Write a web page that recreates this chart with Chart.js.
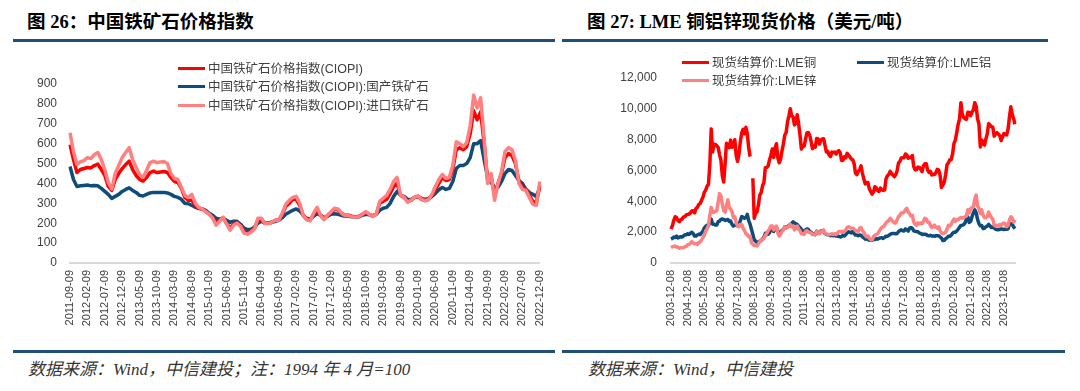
<!DOCTYPE html>
<html><head><meta charset="utf-8">
<script src="https://cdn.jsdelivr.net/npm/chart.js@4.4.1/dist/chart.umd.min.js"></script>
<style>
html,body{margin:0;padding:0;background:#fff;width:1080px;height:391px;overflow:hidden;position:relative}
.t{position:absolute;font-family:"Liberation Serif","Noto Sans CJK SC",serif;font-weight:bold;font-size:18.5px;color:#000;white-space:nowrap;line-height:18px}
.rule{position:absolute;background:#1F4E79}
.src{position:absolute;font-family:"Liberation Serif","Noto Sans CJK SC",serif;font-style:italic;font-size:17px;color:#333;white-space:nowrap;line-height:17px}
.lg{position:absolute;font-family:"Liberation Sans","Noto Sans CJK SC",sans-serif;font-size:12.5px;color:#404040;white-space:nowrap;line-height:14px;height:14px}
.lg .sw{display:inline-block;width:27px;height:3px;vertical-align:middle;margin-right:3px;position:relative;top:-1px}
canvas{position:absolute}
</style></head>
<body>
<div class="t" style="left:27px;top:13px">图 26：中国铁矿石价格指数</div>
<div class="t" style="left:587px;top:13px">图 27: LME 铜铝锌现货价格（美元/吨）</div>
<div class="rule" style="left:13px;top:39px;width:542px;height:3px"></div>
<div class="rule" style="left:562px;top:39px;width:486px;height:3px"></div>
<div class="rule" style="left:13px;top:350px;width:542px;height:3px"></div>
<div class="rule" style="left:562px;top:350px;width:503px;height:3px"></div>
<div class="src" style="left:28px;top:361px">数据来源：Wind，中信建投；注：1994 年 4 月=100</div>
<div class="src" style="left:588px;top:361px">数据来源：Wind，中信建投</div>

<canvas id="c1" width="560" height="300" style="left:0;top:45px"></canvas>
<canvas id="c2" width="520" height="300" style="left:560px;top:45px"></canvas>

<div class="lg" style="left:178px;top:62px"><span class="sw" style="background:#FF0000"></span>中国铁矿石价格指数(CIOPI)</div>
<div class="lg" style="left:178px;top:80px"><span class="sw" style="background:#0E4C7C"></span>中国铁矿石价格指数(CIOPI):国产铁矿石</div>
<div class="lg" style="left:178px;top:99px"><span class="sw" style="background:#FF8080"></span>中国铁矿石价格指数(CIOPI):进口铁矿石</div>

<div class="lg" style="left:682px;top:56px"><span class="sw" style="background:#FF0000"></span>现货结算价:LME铜</div>
<div class="lg" style="left:682px;top:74px"><span class="sw" style="background:#FF8080"></span>现货结算价:LME锌</div>
<div class="lg" style="left:857px;top:56px"><span class="sw" style="background:#0E4C7C"></span>现货结算价:LME铝</div>

<script>
// ---------- Chart 26: CIOPI monthly, 2011-09 .. 2022-12 ----------
const ironStart = [2011, 9];
const ironComposite = [
 595,520,455,470,
 475,480,478,490,497,470,440,385,365,420,450,475,
 495,512,470,440,420,412,430,455,462,455,458,460,
 455,430,410,405,375,330,315,315,290,275,270,260,
 245,230,205,215,228,200,175,195,205,190,160,150,
 160,175,215,220,200,200,205,215,215,245,285,300,
 320,320,290,240,220,215,245,270,240,220,240,255,
 270,268,250,240,240,235,232,235,245,255,245,235,
 245,300,310,320,350,385,400,340,330,310,315,330,
 335,320,315,320,340,370,400,430,415,420,470,570,
 580,570,585,650,765,720,760,600,420,440,340,400,
 450,530,550,540,500,410,380,370,340,310,300,390
];
const ironDomestic = [
 485,420,385,388,
 390,392,388,390,388,375,360,345,325,335,345,360,
 370,378,365,355,340,337,345,352,355,355,355,355,
 352,345,335,330,320,300,298,290,280,275,272,265,
 250,240,225,220,225,215,205,210,210,195,175,168,
 170,180,200,210,200,200,205,210,215,228,245,255,
 265,272,262,240,225,220,235,248,240,228,235,245,
 248,245,240,235,235,232,230,232,240,245,242,238,
 245,265,275,280,300,335,360,340,335,320,318,330,
 335,325,320,325,335,350,368,380,370,375,410,475,
 490,490,500,530,600,600,615,520,430,405,380,380,
 410,450,470,465,440,415,400,370,355,345,335,378
];
const ironImported = [
 655,560,495,510,
 515,530,525,545,555,520,470,405,372,450,490,530,
 555,580,520,480,445,430,465,505,512,505,508,510,
 500,450,425,420,380,340,330,345,300,280,270,258,
 245,225,190,210,230,195,165,190,200,185,150,145,
 155,170,225,225,198,197,205,215,215,250,295,315,
 330,335,300,240,218,212,250,280,240,218,240,258,
 275,272,250,238,238,233,230,233,245,258,245,233,
 245,310,325,340,370,410,430,340,330,305,315,330,
 337,320,312,318,345,385,420,445,425,430,490,610,
 600,585,605,690,845,780,830,630,400,450,315,400,
 460,560,580,570,515,400,370,365,330,295,290,410
];
const ironTickEvery = 5;
const ironYMax = 900, ironYStep = 100;

// ---------- Chart 27: LME spot, monthly, 2003-12 .. 2024-08 ----------
const metalStart = [2003, 12];
const lmeCopper = [
 2200,
 2420,2760,3000,2950,2750,2680,2810,2850,2990,3000,3120,3150,
 3170,3250,3380,3390,3250,3530,3610,3800,3860,4060,4270,4580,
 4730,4980,5100,6400,8700,7200,7710,7690,7600,7500,7030,6680,
 5670,5250,6450,7770,7650,7480,7970,7510,7650,8000,6960,6590,
 7060,7890,8440,8680,8380,8800,8400,7500,6900,null,5500,2900,
 3220,3310,3750,4410,4570,5010,5220,6180,6200,6290,6680,6980,
 7390,6850,7460,7740,6840,6500,6740,7280,7710,8290,8470,9150,
 9550,10000,9530,9480,8960,9060,9620,9040,8300,7390,7580,7570,
 8040,8440,8470,8290,7900,7420,7580,7510,8070,8060,7710,7960,
 8050,8060,7650,7200,7250,7000,6910,7190,7160,7200,7070,7210,
 7290,7150,6650,6670,6890,6820,7110,7000,6870,6740,6710,6450,
 5830,5730,5940,6040,6300,5830,5460,5130,5220,5220,4800,4640,
 4470,4600,4950,4870,4690,4640,4860,4750,4720,4730,5450,5660,
 5740,5940,5820,5700,5600,5720,5980,6490,6580,6810,6820,6830,
 7070,7000,6800,6840,6830,6970,6250,6050,6050,6220,6200,6080,
 5930,6300,6440,6440,6030,5870,5940,5710,5760,5740,5860,6080,
 6030,5690,4900,5060,5240,5740,6370,6500,6700,6700,7070,7760,
 7970,8460,8990,9340,10400,9630,9440,9360,9320,9780,9770,9550,
 9780,9940,10400,10180,9360,9030,7530,7980,7750,7650,8050,8370,
 9040,8950,8840,8810,8230,8390,8460,8350,8270,7940,8170,8390,
 8340,8310,8680,9470,10130,9640,9360,9000
];
const lmeAluminium = [
 1550,
 1600,1680,1650,1750,1630,1680,1700,1690,1750,1830,1830,1900,
 1850,1930,1990,1900,1750,1750,1820,1870,1850,1950,2050,2270,
 2380,2450,2430,2620,2850,2520,2520,2460,2460,2680,2720,2830,
 2850,2830,2760,2800,2820,2700,2720,2500,2400,2440,2480,2400,
 2450,2750,3010,2960,2900,2950,3150,2750,2520,2190,1860,1500,
 1420,1340,1360,1420,1460,1570,1670,1930,1840,1860,1960,2180,
 2230,2040,2210,2320,2040,1930,2000,2120,2160,2350,2330,2350,
 2440,2510,2560,2670,2600,2550,2500,2380,2290,2180,2080,2020,
 2150,2210,2180,2050,2000,1890,1880,1840,2060,1970,1950,2080,
 2040,2050,1910,1860,1830,1840,1770,1820,1760,1820,1750,1740,
 1730,1690,1710,1810,1750,1840,1950,2030,1990,1950,2050,1910,
 1810,1820,1770,1820,1800,1690,1640,1550,1590,1520,1470,1480,
 1480,1530,1530,1570,1550,1600,1630,1640,1590,1660,1740,1730,
 1790,1860,1900,1920,1920,1890,1910,2030,2100,2150,2090,2080,
 2210,2160,2070,2260,2300,2240,2090,2060,2040,2030,1940,1920,
 1850,1870,1870,1850,1780,1760,1800,1750,1760,1730,1770,1770,
 1770,1690,1610,1460,1470,1580,1640,1730,1740,1800,1930,1990,
 2000,2080,2190,2320,2440,2450,2490,2600,2840,2980,2630,2700,
 3000,3250,3450,3260,2830,2560,2410,2430,2230,2260,2350,2390,
 2500,2400,2300,2340,2270,2190,2160,2150,2190,2200,2200,2170,
 2200,2190,2220,2520,2560,2520,2340,2230
];
const lmeZinc = [
 1000,
 1050,1080,1100,1030,1040,960,1000,980,1000,1060,1080,1190,
 1210,1280,1380,1300,1240,1270,1200,1330,1360,1500,1650,1800,
 2080,2220,2440,3100,3600,3300,3300,3350,3400,3950,4500,4350,
 3800,3400,3300,3700,4100,3600,3500,3300,2950,3000,2600,2400,
 2350,2500,2500,2250,2100,1900,1850,1700,1750,1300,1220,1130,
 1170,1110,1240,1400,1500,1550,1580,1800,1900,2100,2200,2400,
 2400,2150,2300,2400,1950,1750,1850,2050,2150,2350,2250,2300,
 2400,2500,2350,2400,2150,2250,2400,2200,2100,1900,1900,1850,
 2050,2100,2000,2000,1950,1850,1850,1850,2050,1900,1900,2050,
 2050,2150,1950,1900,1850,1850,1850,1900,1850,1900,1850,1950,
 2050,2050,2000,2050,2050,2150,2300,2350,2300,2250,2250,2200,
 2100,2100,2050,2250,2300,2100,2000,1800,1700,1750,1600,1500,
 1500,1700,1800,1850,1900,2050,2200,2300,2350,2450,2600,2700,
 2750,2900,2800,2700,2600,2600,2800,3000,3100,3250,3250,3300,
 3450,3550,3300,3200,3050,3100,2650,2500,2450,2600,2550,2600,
 2550,2700,2900,2850,2650,2650,2450,2300,2350,2450,2300,2250,
 2350,2100,1950,1900,1950,2000,2200,2450,2400,2500,2700,2850,
 2700,2800,2800,2900,2950,2900,2950,3000,3050,3450,3250,3500,
 3600,3650,4150,4400,3700,3550,3200,3450,3100,2950,2950,3000,
 3300,3100,2950,2850,2450,2400,2450,2400,2500,2450,2550,2600,
 2550,2350,2450,2800,3000,2900,2650,2800
];
const metalTickEvery = 12;
const metalYMax = 12000, metalYStep = 2000;

function monthLabels(start, n, day){
  const out=[]; let y=start[0], m=start[1];
  for(let i=0;i<n;i++){ out.push(y+'-'+String(m).padStart(2,'0')+'-'+day); m++; if(m>12){m=1;y++;} }
  return out;
}
const ironLabels = monthLabels(ironStart, ironComposite.length, '09');
const metalLabels = monthLabels(metalStart, lmeCopper.length, '08');

const RED='#FF0000', BLUE='#0E4C7C', PINK='#FF8080', TXT='#404040';
const tickFont={family:'"Liberation Sans", Arial, sans-serif', size:12};
const xFont={family:'"Liberation Sans", Arial, sans-serif', size:11};

function ds(label,data,color,order){
  return {label,data,borderColor:color,backgroundColor:color,borderWidth:3.5,pointRadius:0,tension:0,order,spanGaps:false,borderJoinStyle:'round'};
}
function makeChart(id, labels, datasets, every, ymax, ystep, yW, padTop, padRight, tickPad){
  return new Chart(document.getElementById(id),{
    type:'line',
    data:{labels,datasets},
    options:{
      responsive:false, animation:false, devicePixelRatio:1,
      layout:{padding:{top:padTop,right:padRight,left:0,bottom:0}},
      plugins:{legend:{display:false},tooltip:{enabled:false}},
      scales:{
        x:{type:'category',offset:false,
           grid:{display:false,drawTicks:false},
           border:{display:true,color:'#D9D9D9',width:2},
           ticks:{autoSkip:false,minRotation:90,maxRotation:90,padding:7,color:TXT,font:xFont,
             callback:function(v,i){ return i%every===0 ? labels[i] : null; }},
           afterFit:s=>{s.height=82;}},
        y:{min:0,max:ymax,
           grid:{display:false,drawTicks:false},
           border:{display:false},
           ticks:{stepSize:ystep,padding:tickPad,color:TXT,font:tickFont},
           afterFit:s=>{s.width=yW;}}
      }
    }
  });
}
makeChart('c1', ironLabels, [
  ds('中国铁矿石价格指数(CIOPI)', ironComposite, RED, 2),
  ds('中国铁矿石价格指数(CIOPI):国产铁矿石', ironDomestic, BLUE, 3),
  ds('中国铁矿石价格指数(CIOPI):进口铁矿石', ironImported, PINK, 1)
], ironTickEvery, ironYMax, ironYStep, 70, 39, 12, 13);
makeChart('c2', metalLabels, [
  ds('现货结算价:LME铜', lmeCopper, RED, 3),
  ds('现货结算价:LME铝', lmeAluminium, BLUE, 2),
  ds('现货结算价:LME锌', lmeZinc, PINK, 1)
], metalTickEvery, metalYMax, metalYStep, 111, 33, 65, 14);
</script>
</body></html>
